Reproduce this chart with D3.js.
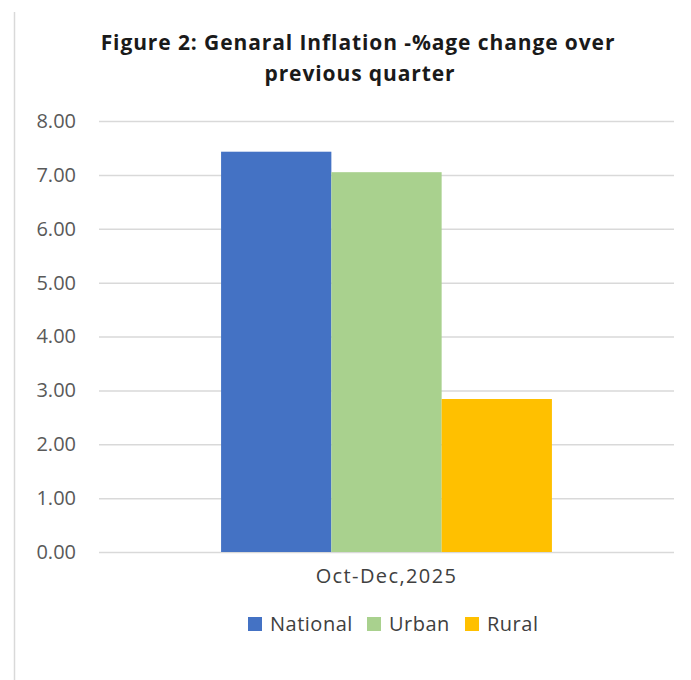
<html>
<meta charset="utf-8">
<script src="https://d3js.org/d3.v7.min.js"></script>
<style>
  body { margin: 0; background: #fff; }
  text { font-family: "Open Sans", sans-serif; }
</style>
<body>
<script>
const categories = ["Oct-Dec,2025"];
const seriesNames = ["National", "Urban", "Rural"];
const nationalValues = [7.43];
const urbanValues = [7.05];
const ruralValues = [2.84];
const yTicks = [0, 1, 2, 3, 4, 5, 6, 7, 8];
const colors = ["#4472c4", "#a9d18e", "#ffc000"];

const seriesValues = [nationalValues, urbanValues, ruralValues];
const rows = categories.map((c, i) => ({
  category: c,
  values: seriesNames.map((s, j) => ({ key: s, value: seriesValues[j][i] }))
}));

const W = 691, H = 680;
const margin = { top: 121, right: 17, bottom: 128, left: 99 };
const width = W - margin.left - margin.right;
const height = H - margin.top - margin.bottom;

const svg = d3.select('body').append('svg')
  .attr('width', W)
  .attr('height', H);

// chart frame edge on the left
svg.append('line')
  .attr('x1', 14.5).attr('x2', 14.5)
  .attr('y1', 12).attr('y2', H)
  .attr('stroke', '#d9d9d9')
  .attr('stroke-width', 1.5);

svg.append('text')
  .attr('x', 358).attr('y', 50)
  .attr('text-anchor', 'middle')
  .style('font-weight', 'bold')
  .style('font-size', '21px')
  .style('letter-spacing', '0.9px')
  .attr('fill', '#1a1a1a')
  .text('Figure 2: Genaral Inflation -%age change over');

svg.append('text')
  .attr('x', 360).attr('y', 81)
  .attr('text-anchor', 'middle')
  .style('font-weight', 'bold')
  .style('font-size', '21px')
  .style('letter-spacing', '0.9px')
  .attr('fill', '#1a1a1a')
  .text('previous quarter');

const g = svg.append('g')
  .attr('transform', `translate(${margin.left}, ${margin.top})`);

const x0 = d3.scaleBand()
  .domain(categories)
  .range([0, width])
  .paddingInner(0)
  .paddingOuter(0.369);

const x1 = d3.scaleBand()
  .domain(seriesNames)
  .range([0, x0.bandwidth()]);

const y = d3.scaleLinear()
  .domain([0, 8])
  .range([height, 0]);

const color = d3.scaleOrdinal().domain(seriesNames).range(colors);

// gridlines
g.append('g')
  .call(d3.axisLeft(y).tickValues(yTicks).tickSize(-width).tickFormat(''))
  .call(a => a.select('.domain').remove())
  .call(a => a.selectAll('line').attr('stroke', '#d9d9d9').attr('stroke-width', 1.5));

// y labels
g.append('g')
  .attr('transform', 'translate(-20,0)')
  .call(d3.axisLeft(y).tickValues(yTicks).tickSize(0).tickFormat(d3.format('.2f')))
  .call(a => a.select('.domain').remove())
  .call(a => a.selectAll('text')
    .attr('fill', '#595959')
    .style('font-family', '"Open Sans", sans-serif')
    .style('font-size', '20px'));

// bars
g.selectAll('.group').data(rows)
  .enter()
  .append('g')
  .attr('class', 'group')
  .attr('transform', d => `translate(${x0(d.category)},0)`)
  .selectAll('rect').data(d => d.values)
  .enter()
  .append('rect')
  .attr('x', d => x1(d.key))
  .attr('width', x1.bandwidth())
  .attr('y', d => y(d.value))
  .attr('height', d => height - y(d.value))
  .attr('fill', d => color(d.key));

// x axis labels
g.append('g')
  .attr('transform', `translate(0, ${height})`)
  .call(d3.axisBottom(x0).tickSize(0).tickPadding(17))
  .call(a => a.select('.domain').remove())
  .call(a => a.selectAll('text')
    .attr('fill', '#404040')
    .style('font-family', '"Open Sans", sans-serif')
    .style('font-size', '20px')
    .style('letter-spacing', '1.4px'));

// legend
const legendX = [248, 367, 465];
const legend = svg.append('g')
  .selectAll('g').data(seriesNames)
  .enter()
  .append('g')
  .attr('transform', (d, i) => `translate(${legendX[i]}, 617)`);

legend.append('rect')
  .attr('width', 14).attr('height', 14)
  .attr('fill', d => color(d));

legend.append('text')
  .attr('x', 22).attr('y', 14)
  .attr('fill', '#404040')
  .style('font-family', '"Open Sans", sans-serif')
  .style('font-size', '20px')
  .style('letter-spacing', '0.5px')
  .text(d => d);
</script>
</body>
</html>
